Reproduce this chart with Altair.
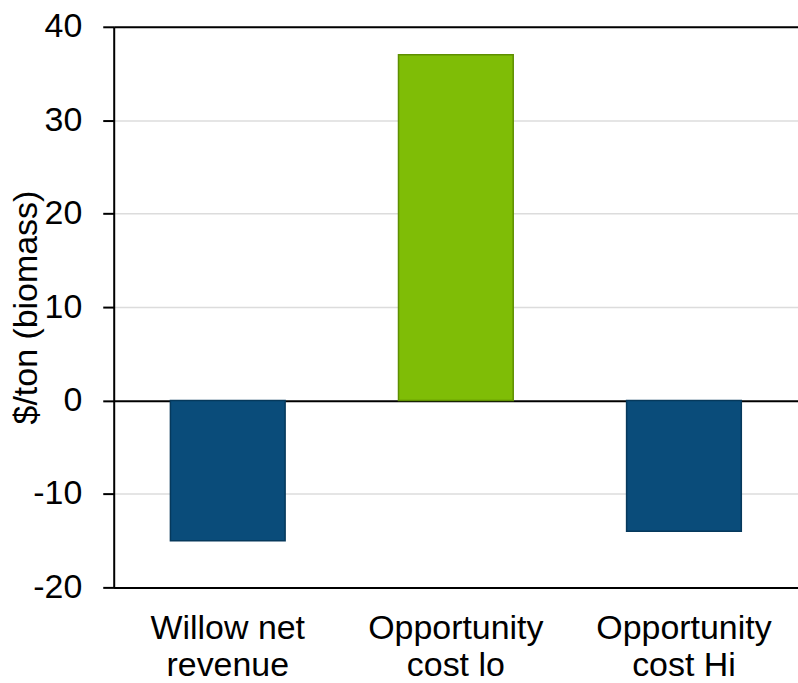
import altair as alt
import pandas as pd

categories = ["Willow net\nrevenue", "Opportunity\ncost lo", "Opportunity\ncost Hi"]
values = [-15, 37, -14]
bar_colors = ["#0a4c7a", "#7fbd06", "#0a4c7a"]
edge_colors = ["#06395c", "#5e8f00", "#06395c"]
y_ticks = [-20, -10, 0, 10, 20, 30, 40]

df = pd.DataFrame({"category": categories, "value": values})

FONT = "Liberation Sans"

bars = alt.Chart(df).mark_bar(size=115, strokeWidth=1.5).encode(
    x=alt.X(
        "category:N",
        sort=categories,
        scale=alt.Scale(paddingInner=0, paddingOuter=0),
        axis=alt.Axis(
            title=None,
            labelAngle=0,
            labelFontSize=34,
            labelFont=FONT,
            labelColor="black",
            labelPadding=24,
            labelLineHeight=37,
            labelExpr="split(datum.value, '\\n')",
            ticks=False,
            domainColor="black",
            domainWidth=2,
            grid=False,
        ),
    ),
    y=alt.Y(
        "value:Q",
        scale=alt.Scale(domain=[-20, 40], nice=False, zero=False),
        axis=alt.Axis(
            values=y_ticks,
            labelExpr="'' + datum.value",
            title="$/ton (biomass)",
            titleFont=FONT,
            titleFontSize=34,
            titleFontWeight="normal",
            titleColor="black",
            titleAngle=-90,
            titleAlign="center",
            titleBaseline="bottom",
            titleX=-70,
            titleY=281,
            labelFont=FONT,
            labelFontSize=34,
            labelColor="black",
            labelPadding=21,
            tickSize=11,
            tickWidth=2,
            tickColor="black",
            domainColor="black",
            domainWidth=2,
            grid=True,
            gridColor={
                "condition": {"test": "datum.value == 40 || datum.value == 0 || datum.value == -20", "value": "black"},
                "value": "#dcdcdc",
            },
            gridWidth={
                "condition": {"test": "datum.value == 40 || datum.value == 0 || datum.value == -20", "value": 2},
                "value": 1.5,
            },
        ),
    ),
    color=alt.Color(
        "category:N",
        scale=alt.Scale(domain=categories, range=bar_colors),
        legend=None,
    ),
    stroke=alt.Stroke(
        "category:N",
        scale=alt.Scale(domain=categories, range=edge_colors),
        legend=None,
    ),
)

chart = bars.properties(
    width=686,
    height=562,
    autosize=alt.AutoSizeParams(type="none"),
    padding={"left": 114, "top": 26, "right": 0, "bottom": 95},
).configure_view(stroke=None).configure(background="white")

chart.save("out.html", embed_options={"renderer": "svg", "actions": False})
